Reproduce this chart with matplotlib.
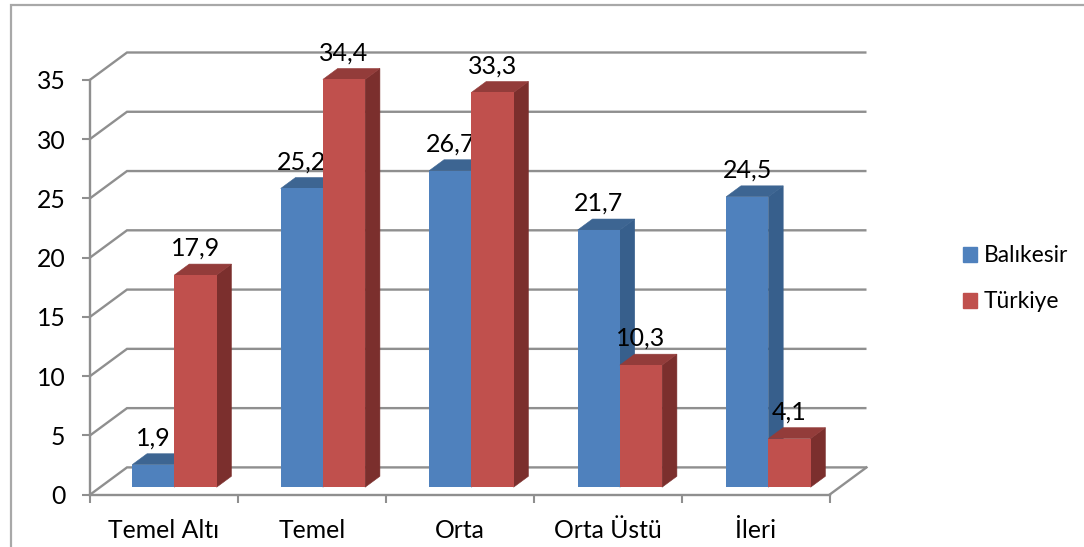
import matplotlib
matplotlib.use("Agg")
import matplotlib.pyplot as plt
from matplotlib.patches import Patch
from matplotlib.lines import Line2D

plt.rcParams['font.family'] = ['Lato', 'DejaVu Sans']

categories = ['Temel Altı', 'Temel', 'Orta', 'Orta Üstü', 'İleri']
balikesir = [1.9, 25.2, 26.7, 21.7, 24.5]
turkiye = [17.9, 34.4, 33.3, 10.3, 4.1]
yticks = [0, 5, 10, 15, 20, 25, 30, 35]

W, H = 1084, 547
GRAY = '#8f8f8f'
BLUE = ('#4F81BD', '#3D6592', '#375F8C')
RED = ('#C0504D', '#933C3A', '#7B2F2D')

fig = plt.figure(figsize=(W / 100, H / 100), dpi=100, facecolor='white')
L, R, T0, T35 = 90, 829.5, 494.7, 79.8
ax = fig.add_axes([L / W, 1 - T0 / H, (R - L) / W, (T0 - T35) / H])
ax.set_xlim(0, len(categories))
ax.set_ylim(0, yticks[-1])
ax.patch.set_alpha(0)

px_x = len(categories) / (R - L)      # data units per pixel
px_y = yticks[-1] / (T0 - T35)
DX, DY = 37 * px_x, 27.3 * px_y       # full floor depth


def proj(x, y, d):
    return x + d * DX, y + d * DY


# back wall and left wall grid
for v in yticks:
    x0, y0 = proj(0, v, 1)
    x1, y1 = proj(len(categories), v, 1)
    ax.plot([0, x0, x1], [v, y0, y1], color=GRAY, lw=1.7, clip_on=False, zorder=1,
            solid_joinstyle='miter', solid_capstyle='butt')
x0, y0 = proj(len(categories), 0, 1)
ax.plot([len(categories), x0], [0, y0], color=GRAY, lw=1.7, clip_on=False, zorder=1)

D0, D1 = 0.275, 0.675
BW = 42.2 * px_x
PITCH = 1.004


def draw_bars(vals, offset, cols, z):
    for i, v in enumerate(vals):
        xl = (i + 0.5) * PITCH + offset
        bx, by = proj(xl, 0, D0)
        ax.bar(bx, v, BW, bottom=by, align='edge', color=cols[0], zorder=z + 0.2, clip_on=False,
               linewidth=0)
        xr = bx + BW
        top = by + v
        ddx, ddy = (D1 - D0) * DX, (D1 - D0) * DY
        ax.fill([xr, xr + ddx, xr + ddx, xr], [by, by + ddy, top + ddy, top], facecolor=cols[2],
                edgecolor=cols[2], zorder=z, clip_on=False, linewidth=0.4)
        ax.fill([bx, bx + ddx, xr + ddx, xr], [top, top + ddy, top + ddy, top], facecolor=cols[1],
                edgecolor=cols[1], zorder=z, clip_on=False, linewidth=0.4)
        ax.annotate(str(v).replace('.', ','), (bx + BW / 2, top), xytext=(0, 19.2),
                    textcoords='offset points', ha='center', va='center', fontsize=18,
                    color='black', zorder=z + 0.5, annotation_clip=False)


draw_bars(balikesir, -BW, BLUE, 3)
draw_bars(turkiye, 0, RED, 5)

for s in ('top', 'right'):
    ax.spines[s].set_visible(False)
for s in ('left', 'bottom'):
    ax.spines[s].set_color(GRAY)
    ax.spines[s].set_linewidth(1.7)
    ax.spines[s].set_zorder(2)

ax.set_yticks(yticks)
ax.set_xticks(range(len(categories) + 1))
ax.set_xticklabels([''] * (len(categories) + 1))
ax.set_xticks([i + 0.5 for i in range(len(categories))], minor=True)
ax.set_xticklabels(categories, minor=True)
ax.tick_params(axis='y', length=5.8, width=1.5, color=GRAY, pad=12, labelsize=17.8)
ax.tick_params(axis='x', which='major', length=6, width=1.5, color=GRAY)
ax.tick_params(axis='x', which='minor', length=0, pad=17.5, labelsize=17.8)

# outer frame, open to the right and bottom edges of the image
fig.add_artist(Line2D([11 / W, 11 / W, 1], [0, 1 - 5 / H, 1 - 5 / H], color='#a8a8a8', lw=1.6,
                      solid_joinstyle='miter'))

handles = [Patch(color=BLUE[0], label='Balıkesir'), Patch(color=RED[0], label='Türkiye')]
fig.legend(handles=handles, loc='upper left', bbox_to_anchor=(951.6 / W, 1 - 234 / H),
           frameon=False, fontsize=16.4, handlelength=0.61, handleheight=0.61, handletextpad=0.3,
           labelspacing=1.1, borderpad=0.5, borderaxespad=0)

fig.savefig('out.png', dpi=100)
